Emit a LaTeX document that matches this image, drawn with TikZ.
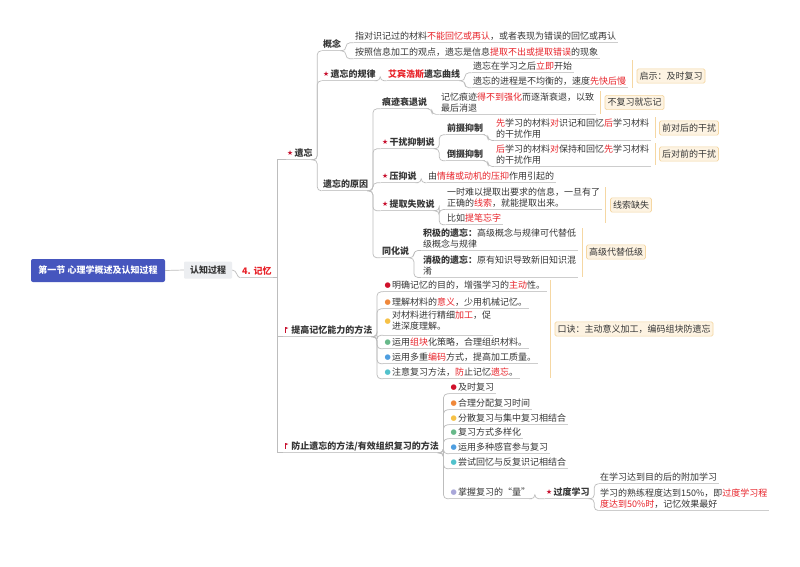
\documentclass[tikz,border=0pt]{standalone}
\usepackage{fontspec}
\setmainfont{Noto Sans CJK SC}
\newfontfamily\djv{DejaVu Sans}
\usetikzlibrary{calc}
\definecolor{txt}{HTML}{363636}
\definecolor{hl}{HTML}{E8232A}
\definecolor{starc}{HTML}{C8102E}
\definecolor{cnc}{HTML}{BDBDBD}
\definecolor{ulc}{HTML}{CDCDCD}
\definecolor{callfill}{HTML}{FDF3E2}
\definecolor{callline}{HTML}{F5D7A3}
\definecolor{rootc}{HTML}{4656BE}
\definecolor{renc}{HTML}{ECEEF1}
\definecolor{da}{HTML}{D0112B}
\definecolor{db}{HTML}{F0883A}
\definecolor{dc}{HTML}{F6C146}
\definecolor{dd}{HTML}{68B98A}
\definecolor{de}{HTML}{4E9EE0}
\definecolor{df}{HTML}{52C2CC}
\definecolor{dg}{HTML}{A9A7D9}
\newcommand\fs{\fontsize{9}{11}\selectfont}
\newcommand\R[1]{\textcolor{hl}{#1}}
\newcommand\st{\raisebox{0.8pt}{\djv\fontsize{6.8}{6}\selectfont\textcolor{starc}{★}}\hspace{1.2pt}}
\newcommand\dt[1]{\raisebox{0.9pt}{\djv\fontsize{7.2}{6}\selectfont\textcolor{#1}{●}}\hspace{1.2pt}}
\newcommand\fl{\tikz[baseline=0pt]{\fill[starc] (0pt,0pt) rectangle (0.9pt,6pt); \fill[starc] (0.9pt,6pt) -- (3.6pt,5pt) -- (0.9pt,3.8pt) -- cycle;}\hspace{3pt}}
\newcommand\lk[2]{\draw[cn,rounded corners=4pt] (#1.south east) -- ++(3,0) |- (#2.south west);}
\tikzset{
  base/.style={anchor=west, inner xsep=1.5pt, inner ysep=2pt, font=\fs, text=txt},
  tp/.style={base, text height=7.6pt, text depth=1.6pt},
  bt/.style={tp, font=\fs\bfseries},
  ml/.style={base, align=left},
  call/.style={draw=callline, fill=callfill, line width=0.6pt, rounded corners=1.5pt, inner xsep=2.5pt, inner ysep=2.5pt, font=\fs, text=txt, text height=7.6pt, text depth=1.6pt},
  rootbox/.style={fill=rootc, text=white, font=\fs\bfseries, minimum width=134pt, minimum height=23pt, rounded corners=2pt, inner sep=0pt},
  renbox/.style={fill=renc, text=txt, font=\fs\bfseries, minimum width=48pt, minimum height=17pt, rounded corners=1pt, inner sep=0pt},
  cn/.style={draw=cnc, line width=0.7pt},
  ul/.style={draw=ulc, line width=0.7pt},
  brk/.style={draw=callline, line width=0.7pt}
}
\begin{document}
\begin{tikzpicture}[x=1pt,y=-1pt]
\useasboundingbox (0,0) rectangle (800,566);
\fill[white] (0,0) rectangle (800,566);

% main nodes
\node[rootbox] (root) at (98,270.5) {第一节 心理学概述及认知过程};
\node[renbox] (ren) at (208,270) {认知过程};
\node[bt, text=hl] (jiyi) at (240.5,271) {4. 记忆};

\node[bt] (yw) at (285.5,153) {\st 遗忘};
\node[bt] (tg) at (283,330) {\fl 提高记忆能力的方法};
\node[bt] (fz) at (283,446) {\fl 防止遗忘的方法/有效组织复习的方法};

% forgetting
\node[bt] (gn) at (321.5,44) {概念};
\node[bt] (gl) at (321.5,74) {\st 遗忘的规律};
\node[bt] (yy) at (321.5,184) {遗忘的原因};

\node[tp] (gn1) at (353.5,36) {指对识记过的材料\R{不能回忆或再认}，或者表现为错误的回忆或再认};
\node[tp] (gn2) at (353.5,52) {按照信息加工的观点，遗忘是信息\R{提取不出或提取错误}的现象};
\node[bt] (abh) at (386.5,74) {\R{艾宾浩斯}遗忘曲线};
\node[tp] (abh1) at (471.5,66) {遗忘在学习之后\R{立即}开始};
\node[tp] (abh2) at (471.5,81) {遗忘的进程是不均衡的，速度\R{先快后慢}};
\node[call] (c1) at (671,76) {启示：及时复习};

\node[bt] (hj) at (380.5,102) {痕迹衰退说};
\node[ml] (hj1) at (439.5,102.5) {记忆痕迹\R{得不到强化}而逐渐衰退，以致\\最后消退};
\node[call] (c2) at (634.5,102.5) {不复习就忘记};
\node[bt] (gr) at (380.5,142) {\st 干扰抑制说};
\node[bt] (qs) at (445.5,128) {前摄抑制};
\node[ml] (qs1) at (494.5,128.5) {\R{先}学习的材料\R{对}识记和回忆\R{后}学习材料\\的干扰作用};
\node[call] (c3) at (689,128) {前对后的干扰};
\node[bt] (ds) at (445.5,154) {倒摄抑制};
\node[ml] (ds1) at (494.5,154.5) {\R{后}学习的材料\R{对}保持和回忆\R{先}学习材料\\的干扰作用};
\node[call] (c4) at (689,154) {后对前的干扰};
\node[bt] (ys) at (380.5,176) {\st 压抑说};
\node[tp] (ys1) at (426.5,176) {由\R{情绪或动机的压抑}作用引起的};
\node[bt] (tq) at (380.5,204) {\st 提取失败说};
\node[ml] (tq1) at (445.5,197.5) {一时难以提取出要求的信息，一旦有了\\正确的\R{线索}，就能提取出来。};
\node[tp] (tq2) at (445.5,218) {比如\R{提笔忘字}};
\node[call] (c5) at (631,205) {线索缺失};
\node[bt] (th) at (380.5,251) {同化说};
\node[ml] (th1) at (421.5,238.5) {\textbf{积极的遗忘：}高级概念与规律可代替低\\级概念与规律};
\node[ml] (th2) at (421.5,265.5) {\textbf{消极的遗忘：}原有知识导致新旧知识混\\淆};
\node[call] (c6) at (616,252) {高级代替低级};

% improving memory
\node[tp] (t1) at (383,285) {\dt{da}明确记忆的目的，增强学习的\R{主动}性。};
\node[tp] (t2) at (383,302) {\dt{db}理解材料的\R{意义}，少用机械记忆。};
\node[base] (t3) at (383,322) {\dt{dc}\begin{tabular}{@{}l@{}}对材料进行精细\R{加工}，促\\进深度理解。\end{tabular}};
\node[tp] (t4) at (383,342) {\dt{dd}运用\R{组块}化策略，合理组织材料。};
\node[tp] (t5) at (383,357) {\dt{de}运用多重\R{编码}方式，提高加工质量。};
\node[tp] (t6) at (383,372) {\dt{df}注意复习方法，\R{防}止记忆\R{遗忘}。};
\node[call] (c7) at (634,329) {口诀：主动意义加工，编码组块防遗忘};

% preventing forgetting
\node[tp] (f1) at (449,387) {\dt{da}及时复习};
\node[tp] (f2) at (449,403) {\dt{db}合理分配复习时间};
\node[tp] (f3) at (449,418) {\dt{dc}分散复习与集中复习相结合};
\node[tp] (f4) at (449,432) {\dt{dd}复习方式多样化};
\node[tp] (f5) at (449,447) {\dt{de}运用多种感官参与复习};
\node[tp] (f6) at (449,462) {\dt{df}尝试回忆与反复识记相结合};
\node[tp] (f7) at (449,492) {\dt{dg}掌握复习的“量”};
\node[bt] (gd) at (544.5,492) {\st 过度学习};
\node[tp] (gd1) at (598.5,477) {在学习达到目的后的附加学习};
\node[ml] (gd2) at (598.5,498.5) {学习的熟练程度达到150\%，即\R{过度学习程}\\\R{度达到50\%时}，记忆效果最好};

% underlines
\foreach \nn in {jiyi,yw,tg,fz,gn,gl,yy,gn1,gn2,abh,abh1,abh2,hj,hj1,gr,qs,qs1,ds,ds1,ys,ys1,tq,tq1,tq2,th,th1,th2,t1,t2,t3,t4,t5,t6,f1,f2,f3,f4,f5,f6,f7,gd,gd1,gd2}
  {\draw[ul] (\nn.south west) -- (\nn.south east);}

% connectors
\draw[cn] (root.east) -- (ren.west);
\draw[cn] (ren.east) .. controls +(5,0) and +(-4,0) .. (jiyi.south west);
\foreach \nn in {yw,tg,fz} {\draw[cn] (jiyi.south east) -- ++(4,0) |- (\nn.south west);}
\lk{yw}{gn}\lk{yw}{gl}\lk{yw}{yy}
\lk{gn}{gn1}\lk{gn}{gn2}
\lk{gl}{abh}
\lk{abh}{abh1}\lk{abh}{abh2}
\lk{yy}{hj}\lk{yy}{gr}\lk{yy}{ys}\lk{yy}{tq}\lk{yy}{th}
\lk{hj}{hj1}
\lk{gr}{qs}\lk{gr}{ds}
\lk{qs}{qs1}\lk{ds}{ds1}
\lk{ys}{ys1}
\lk{tq}{tq1}\lk{tq}{tq2}
\lk{th}{th1}\lk{th}{th2}
\foreach \nn in {t1,t2,t3,t4,t5,t6} {\lk{tg}{\nn}}
\foreach \nn in {f1,f2,f3,f4,f5,f6,f7} {\lk{fz}{\nn}}
\lk{f7}{gd}
\lk{gd}{gd1}\lk{gd}{gd2}

% summary brackets for callouts
\coordinate (b1a) at (632,60);  \coordinate (b1b) at (632,88);
\coordinate (b2a) at (600,91);  \coordinate (b2b) at (600,114);
\coordinate (b3a) at (655,117); \coordinate (b3b) at (655,138);
\coordinate (b4a) at (655,143); \coordinate (b4b) at (655,165);
\coordinate (b5a) at (605,187); \coordinate (b5b) at (605,223);
\coordinate (b6a) at (582,228); \coordinate (b6b) at (582,277);
\coordinate (b7a) at (550,280); \coordinate (b7b) at (550,378);
\foreach \nn in {1,...,7} {\draw[brk] (b\nn a) -- (b\nn b);}
\end{tikzpicture}
\end{document}
